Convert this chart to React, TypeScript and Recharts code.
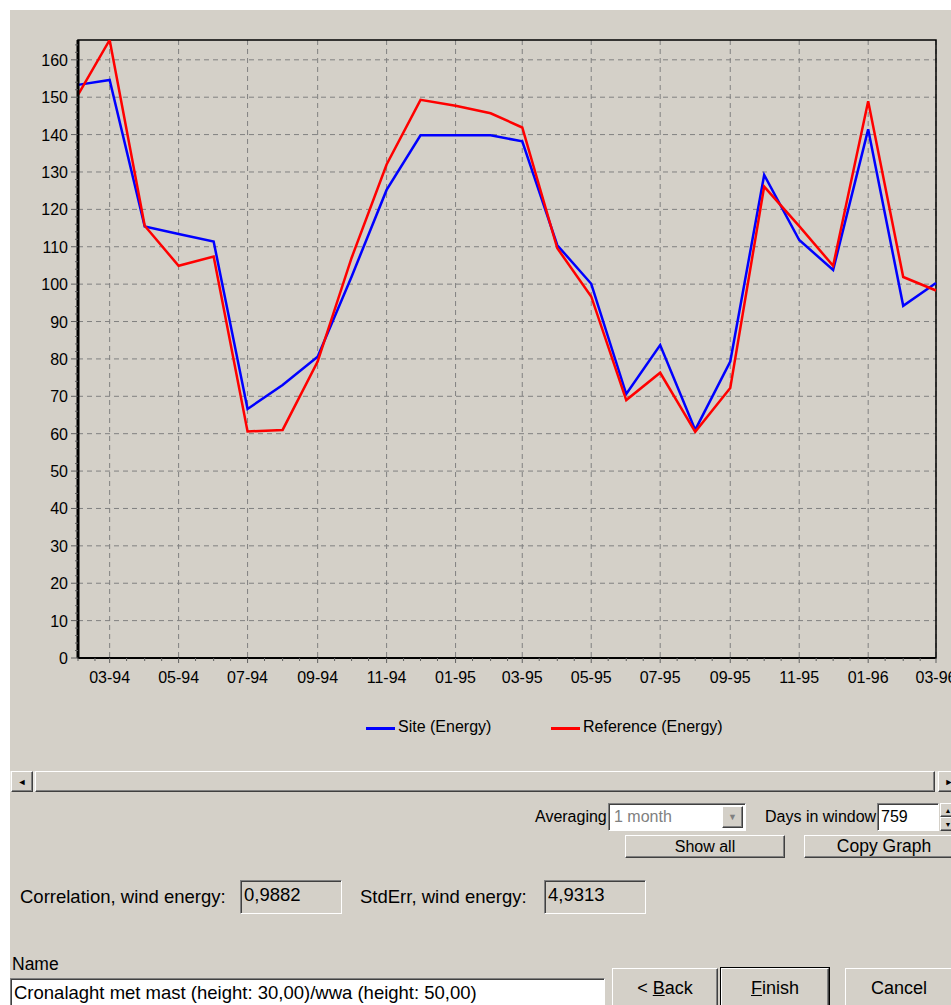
import React from 'react';
import { LineChart, Line, XAxis, YAxis, CartesianGrid, ReferenceArea } from 'recharts';

// monthly points, Feb 1994 .. Mar 1996
const months = [
  '1994-02', '1994-03', '1994-04', '1994-05', '1994-06', '1994-07', '1994-08', '1994-09',
  '1994-10', '1994-11', '1994-12', '1995-01', '1995-02', '1995-03', '1995-04', '1995-05',
  '1995-06', '1995-07', '1995-08', '1995-09', '1995-10', '1995-11', '1995-12', '1996-01',
  '1996-02', '1996-03',
];
const siteEnergy = [
  153.3, 154.6, 115.4, 113.4, 111.4, 66.6, 73.0, 80.6, 102.0, 125.2, 139.8, 139.8, 139.8,
  138.2, 110.4, 100.1, 70.6, 83.7, 61.0, 79.3, 129.2, 111.8, 103.8, 141.4, 94.2, 100.3,
];
const referenceEnergy = [
  150.6, 165.3, 115.6, 104.9, 107.4, 60.6, 61.0, 79.3, 107.0, 132.0, 149.3, 147.7, 145.7,
  141.9, 109.6, 96.7, 69.0, 76.3, 60.5, 72.2, 126.1, 115.5, 104.9, 148.9, 101.9, 98.3,
];
const yMajorTicks = [0, 10, 20, 30, 40, 50, 60, 70, 80, 90, 100, 110, 120, 130, 140, 150, 160];
const yMinorTicks = [
  0, 2, 4, 6, 8, 10, 12, 14, 16, 18, 20, 22, 24, 26, 28, 30, 32, 34, 36, 38, 40, 42, 44, 46, 48,
  50, 52, 54, 56, 58, 60, 62, 64, 66, 68, 70, 72, 74, 76, 78, 80, 82, 84, 86, 88, 90, 92, 94,
  96, 98, 100, 102, 104, 106, 108, 110, 112, 114, 116, 118, 120, 122, 124, 126, 128, 130, 132,
  134, 136, 138, 140, 142, 144, 146, 148, 150, 152, 154, 156, 158, 160, 162, 164,
];
const Y_MAX = 165.3;

const START = Date.UTC(1994, 1, 1);
const dayOf = (y: number, m: number, d = 1) => (Date.UTC(y, m - 1, d) - START) / 86400000;
const monthDay = (ym: string) => {
  const [y, m] = ym.split('-').map(Number);
  return dayOf(y, m);
};
const shortLabel = (ym: string) => ym.slice(5) + '-' + ym.slice(2, 4);
const isLabelled = (ym: string) => Number(ym.slice(5)) % 2 === 1;

const chartData = months.map((m, i) => ({
  day: monthDay(m),
  site: siteEnergy[i],
  reference: referenceEnergy[i],
}));

const labelDays = months.filter(isLabelled).map(monthDay);
const labelByDay: Record<number, string> = {};
months.filter(isLabelled).forEach((m) => { labelByDay[monthDay(m)] = shortLabel(m); });

// month starts plus mid-month minor marks
const xTicks: number[] = [];
months.forEach((m, i) => {
  xTicks.push(monthDay(m));
  if (i < months.length - 1) {
    const [y, mo] = m.split('-').map(Number);
    xTicks.push(dayOf(y, mo, 16));
  }
});
const X_MAX = monthDay(months[months.length - 1]);

const PLOT_LEFT = 78;
const PLOT_BOTTOM = 658;
const FONT = '"Liberation Sans", Arial, sans-serif';
const GRAY = '#D4D0C8';

const XTick = ({ x, payload }: any) => {
  const lab = labelByDay[payload.value];
  return (
    <g>
      <line x1={x} x2={x} y1={PLOT_BOTTOM} y2={PLOT_BOTTOM + (lab ? 5 : 3)} stroke="#606060" />
      {lab && (
        <text x={x} y={PLOT_BOTTOM + 25} textAnchor="middle" fontSize={16} fontFamily={FONT} fill="#000">
          {lab}
        </text>
      )}
    </g>
  );
};

const YTick = ({ y, payload }: any) => {
  const major = payload.value % 10 === 0;
  return (
    <g>
      <line x1={PLOT_LEFT - (major ? 7 : 3)} x2={PLOT_LEFT} y1={y} y2={y} stroke="#606060" />
      {major && (
        <text x={PLOT_LEFT - 10} y={y + 6} textAnchor="end" fontSize={16} fontFamily={FONT} fill="#000">
          {payload.value}
        </text>
      )}
    </g>
  );
};

const ChartLegend = () => (
  <div style={{ position: 'absolute', left: 0, top: 717, width: 951, height: 24, fontFamily: FONT, fontSize: 16, color: '#000' }}>
    <div style={{ position: 'absolute', left: 366, top: 10, width: 29, height: 3, background: '#0000FF' }} />
    <span style={{ position: 'absolute', left: 398, top: 1 }}>Site (Energy)</span>
    <div style={{ position: 'absolute', left: 551, top: 10, width: 29, height: 3, background: '#FF0000' }} />
    <span style={{ position: 'absolute', left: 583, top: 1 }}>Reference (Energy)</span>
  </div>
);

const raised: React.CSSProperties = {
  background: GRAY,
  borderTop: '1px solid #fff',
  borderLeft: '1px solid #fff',
  borderRight: '1px solid #404040',
  borderBottom: '1px solid #404040',
  boxShadow: 'inset -1px -1px 0 #808080',
  boxSizing: 'border-box',
};
const sunken: React.CSSProperties = {
  borderTop: '1px solid #808080',
  borderLeft: '1px solid #808080',
  borderRight: '1px solid #fff',
  borderBottom: '1px solid #fff',
  boxShadow: 'inset 1px 1px 0 #404040',
  boxSizing: 'border-box',
};

const Box = ({ left, top, width, height, style, children }: any) => (
  <div
    style={{
      position: 'absolute', left, top, width, height, fontFamily: FONT, fontSize: 16, color: '#000',
      display: 'flex', alignItems: 'center', whiteSpace: 'nowrap', ...style,
    }}
  >
    {children}
  </div>
);

const Button = ({ left, top, width, height, children, isDefault, fontSize = 16 }: any) => (
  <Box
    left={left}
    top={top}
    width={width}
    height={height}
    style={{
      ...raised,
      justifyContent: 'center',
      fontSize,
      ...(isDefault ? { outline: '1px solid #000' } : {}),
    }}
  >
    {children}
  </Box>
);

const App = () => {
  return (
    <div style={{ position: 'absolute', left: 0, top: 0, width: 951, height: 1005, background: '#fff', overflow: 'hidden' }}>
      <div style={{ position: 'absolute', left: 10, top: 10, right: 0, bottom: 0, background: GRAY }} />
      <div style={{ position: 'absolute', left: 0, top: 0 }}>
        <LineChart width={951} height={700} data={chartData} margin={{ top: 40, right: 15, bottom: 12, left: 20 }}>
          <CartesianGrid
            stroke="#808080"
            strokeDasharray="5 4"
            horizontalValues={yMajorTicks}
            verticalValues={labelDays}
          />
          <XAxis
            dataKey="day"
            type="number"
            domain={[0, X_MAX]}
            ticks={xTicks}
            interval={0}
            height={30}
            tickLine={false}
            tick={<XTick />}
            axisLine={{ stroke: '#000', strokeWidth: 2 }}
          />
          <YAxis
            type="number"
            domain={[0, Y_MAX]}
            ticks={yMinorTicks}
            interval={0}
            width={58}
            tickLine={false}
            tick={<YTick />}
            axisLine={{ stroke: '#000', strokeWidth: 3 }}
            allowDataOverflow
          />
          <ReferenceArea x1={0} x2={X_MAX} y1={0} y2={Y_MAX} fill="none" stroke="#000" strokeWidth={1.5} />
          <Line
            type="linear"
            dataKey="site"
            name="Site (Energy)"
            stroke="#0000FF"
            strokeWidth={2.5}
            dot={false}
            isAnimationActive={false}
          />
          <Line
            type="linear"
            dataKey="reference"
            name="Reference (Energy)"
            stroke="#FF0000"
            strokeWidth={2.5}
            dot={false}
            isAnimationActive={false}
          />
        </LineChart>
      </div>
      <ChartLegend />

      {/* scrollbar */}
      <div style={{ position: 'absolute', left: 10, top: 771, width: 941, height: 21, background: '#E8E6E1' }} />
      <Button left={11} top={771} width={22} height={21}>
        <span style={{ fontSize: 9 }}>◄</span>
      </Button>
      <Box left={35} top={771} width={900} height={21} style={raised} />
      <Button left={938} top={771} width={22} height={21}>
        <span style={{ fontSize: 9 }}>►</span>
      </Button>

      {/* averaging / days in window */}
      <Box left={535} top={804} width={80} height={26}>Averaging</Box>
      <Box left={608} top={803} width={138} height={28} style={{ ...sunken, background: '#fff', color: '#808080', paddingLeft: 5 }}>
        1 month
      </Box>
      <Button left={722} top={806} width={21} height={22}>
        <span style={{ fontSize: 9, color: '#808080' }}>▼</span>
      </Button>
      <Box left={765} top={804} width={115} height={26}>Days in window</Box>
      <Box left={877} top={803} width={62} height={28} style={{ ...sunken, background: '#fff', paddingLeft: 3 }}>
        759
      </Box>
      <Button left={940} top={803} width={16} height={14}>
        <span style={{ fontSize: 7 }}>▲</span>
      </Button>
      <Button left={940} top={817} width={16} height={14}>
        <span style={{ fontSize: 7 }}>▼</span>
      </Button>
      <Button left={625} top={835} width={160} height={23}>Show all</Button>
      <Button left={804} top={835} width={160} height={23} fontSize={17.5}>Copy Graph</Button>

      {/* statistics */}
      <Box left={20} top={880} width={220} height={34} style={{ fontSize: 18.5 }}>Correlation, wind energy:</Box>
      <Box left={240} top={880} width={102} height={34} style={{ ...sunken, fontSize: 18.5, alignItems: 'flex-start', paddingLeft: 3, paddingTop: 3 }}>
        0,9882
      </Box>
      <Box left={360} top={880} width={180} height={34} style={{ fontSize: 18.5 }}>StdErr, wind energy:</Box>
      <Box left={544} top={880} width={102} height={34} style={{ ...sunken, fontSize: 18.5, alignItems: 'flex-start', paddingLeft: 3, paddingTop: 3 }}>
        4,9313
      </Box>

      {/* name and buttons */}
      <Box left={12} top={952} width={80} height={24} style={{ fontSize: 17.5 }}>Name</Box>
      <Box left={10} top={978} width={595} height={30} style={{ ...sunken, background: '#fff', paddingLeft: 3, fontSize: 18.5 }}>
        Cronalaght met mast (height: 30,00)/wwa (height: 50,00)
      </Box>
      <Button left={612} top={968} width={106} height={40} fontSize={18}>
        &lt;&nbsp;<u>B</u>ack
      </Button>
      <Button left={721} top={968} width={108} height={40} fontSize={18} isDefault>
        <u>F</u>inish
      </Button>
      <Button left={845} top={968} width={108} height={40} fontSize={18}>Cancel</Button>
    </div>
  );
};

export default App;
